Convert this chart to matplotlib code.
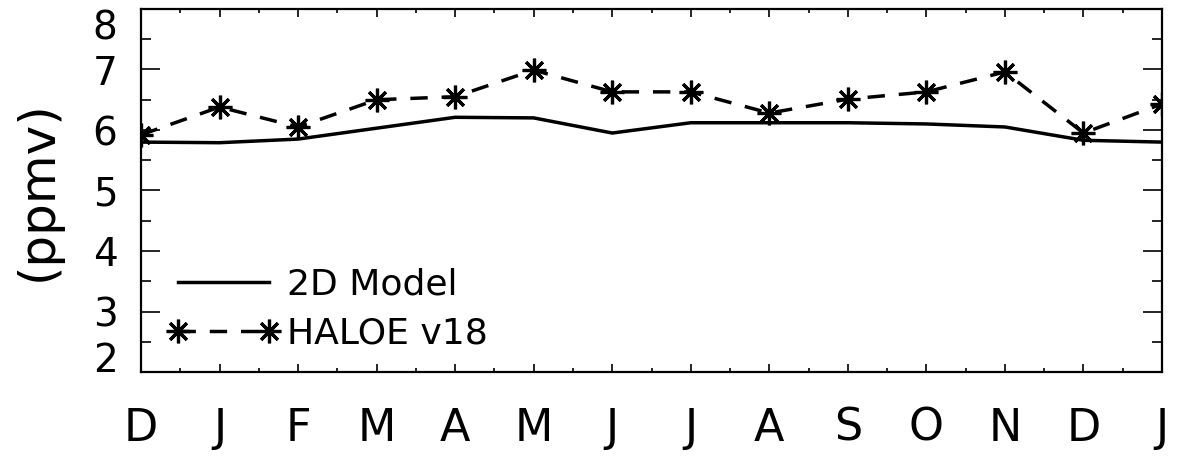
import numpy as np
import matplotlib
matplotlib.use("Agg")
import matplotlib.pyplot as plt
from matplotlib.ticker import MultipleLocator

# data (ppmv)
months = ["D", "J", "F", "M", "A", "M", "J", "J", "A", "S", "O", "N", "D", "J"]
model_2d = [5.80, 5.79, 5.85, 6.03, 6.21, 6.20, 5.95, 6.12, 6.12, 6.12, 6.10, 6.05, 5.83, 5.80]
haloe_v18 = [5.92, 6.38, 6.05, 6.50, 6.55, 6.99, 6.63, 6.63, 6.28, 6.51, 6.63, 6.96, 5.95, 6.43]

plt.rcParams['font.family'] = ['DejaVu Sans']

fig = plt.figure(figsize=(11.8, 4.65), dpi=100)
ax = fig.add_axes([141/1180, 1 - 372/465, (1162 - 141)/1180, (372 - 9)/465])

x = np.arange(len(months))
ax.plot(x, model_2d, color='k', lw=2.5, label='2D Model')
ax.plot(x, haloe_v18, color='k', lw=2.5, ls=(0, (5, 4)),
        marker=(8, 2, 0), ms=17, mew=2.3, label='HALOE v18')

ax.set_xlim(0, 13)
ax.set_ylim(2, 8)
ax.set_xticks(x)
ax.set_xticklabels(months)
ax.xaxis.set_minor_locator(MultipleLocator(0.5))
ax.set_yticks(np.arange(2, 9))
ax.yaxis.set_minor_locator(MultipleLocator(0.5))

ax.tick_params(which='both', direction='in', top=True, right=True, width=1.2, color='k')
ax.tick_params(axis='x', which='major', length=6, pad=25, labelsize=32)
ax.tick_params(axis='x', which='minor', length=3)
ax.tick_params(axis='y', which='major', length=14, pad=17, labelsize=28)
ax.tick_params(axis='y', which='minor', length=7)

# edge labels pushed inside like the original
yt = ax.yaxis.get_major_ticks()
yt[0].label1.set_va('baseline')
yt[-1].label1.set_va('top')

for s in ax.spines.values():
    s.set_linewidth(1.6)

ax.set_ylabel('(ppmv)', fontsize=36, labelpad=22)

ax.legend(loc='lower left', bbox_to_anchor=(0.026, 0.06), frameon=False,
          fontsize=26, numpoints=2, handlelength=3.1, handletextpad=0.2,
          labelspacing=0.4, borderpad=0, borderaxespad=0)

fig.savefig('out.png', dpi=100)
